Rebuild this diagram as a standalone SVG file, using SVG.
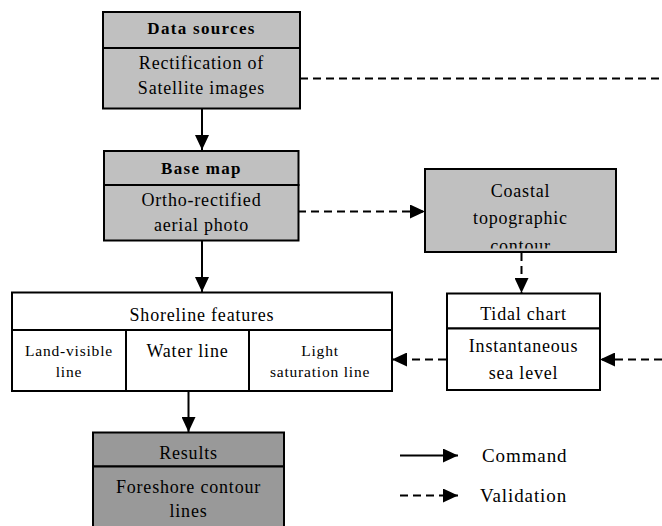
<svg xmlns="http://www.w3.org/2000/svg" width="662" height="526" viewBox="0 0 662 526">
<style>
.box{stroke:#000;stroke-width:2}
.g{fill:#c0c0c0}
.d{fill:#999999}
.w{fill:#fff}
.t{font-family:"Liberation Serif","Times New Roman",serif;font-size:18px;letter-spacing:0.8px;fill:#000;text-anchor:middle}
.b{font-weight:bold;font-size:17px;letter-spacing:1.3px}
.s{font-size:15.5px;letter-spacing:0.8px}
.lg{font-size:19px;letter-spacing:0.9px;text-anchor:start}
.c{stroke:#000;stroke-width:2;fill:none}
.dash{stroke-dasharray:8 5}
</style>
<defs>
<marker id="ah" markerUnits="userSpaceOnUse" markerWidth="16" markerHeight="14" refX="15" refY="7" orient="auto">
<path d="M0,0 L15,7 L0,14 z" fill="#000"/>
</marker>
<clipPath id="cc"><rect x="426" y="170" width="189" height="78.5"/></clipPath>
</defs>

<g id="connectors">
<line class="c" x1="202" y1="109" x2="202" y2="150" marker-end="url(#ah)"/>
<line class="c" x1="202" y1="241" x2="202" y2="292" marker-end="url(#ah)"/>
<line class="c" x1="188.5" y1="391" x2="188.5" y2="432" marker-end="url(#ah)"/>
<line class="c dash" x1="300" y1="78.5" x2="662" y2="78.5"/>
<line class="c dash" x1="298" y1="211.5" x2="425" y2="211.5" marker-end="url(#ah)"/>
<line class="c dash" x1="521.5" y1="253" x2="521.5" y2="293" marker-end="url(#ah)"/>
<line class="c dash" x1="446" y1="359.5" x2="392" y2="359.5" marker-end="url(#ah)"/>
<line class="c dash" x1="662" y1="359.5" x2="600" y2="359.5" marker-end="url(#ah)"/>
</g>

<g id="data-sources">
<rect class="box g" x="103" y="12" width="197" height="36"/>
<rect class="box g" x="103" y="48" width="197" height="60.5"/>
<text class="t b" x="201.5" y="34">Data sources</text>
<text class="t" x="201.5" y="69">Rectification of</text>
<text class="t" x="201.5" y="94">Satellite images</text>
</g>

<g id="base-map">
<rect class="box g" x="104" y="151" width="194.5" height="34"/>
<rect class="box g" x="104" y="185" width="194.5" height="55.5"/>
<text class="t b" x="201.5" y="173.5">Base map</text>
<text class="t" x="201.5" y="205.5">Ortho-rectified</text>
<text class="t" x="201.5" y="230.5">aerial photo</text>
</g>

<g id="coastal">
<rect class="box g" x="425" y="169" width="191" height="83"/>
<g clip-path="url(#cc)">
<text class="t" x="520.5" y="197">Coastal</text>
<text class="t" x="520.5" y="223.5">topographic</text>
<text class="t" x="520.5" y="251.5">contour</text>
</g>
</g>

<g id="tidal-chart">
<rect class="box w" x="447" y="293.5" width="153" height="35"/>
<rect class="box w" x="447" y="328.5" width="153" height="61.5"/>
<text class="t" x="523.5" y="320">Tidal chart</text>
<text class="t" x="523.5" y="352">Instantaneous</text>
<text class="t" x="523.5" y="378.5">sea level</text>
</g>

<g id="shoreline-features">
<rect class="box w" x="12" y="292.5" width="380" height="37.5"/>
<rect class="box w" x="12" y="330" width="380" height="61"/>
<line class="c" x1="126" y1="330" x2="126" y2="391"/>
<line class="c" x1="249" y1="330" x2="249" y2="391"/>
<text class="t" x="202" y="321">Shoreline features</text>
<text class="t s" x="69" y="356">Land-visible</text>
<text class="t s" x="69" y="376.5">line</text>
<text class="t" x="187.5" y="356.5">Water line</text>
<text class="t s" x="320" y="356">Light</text>
<text class="t s" x="320" y="376.5">saturation line</text>
</g>

<g id="results">
<rect class="box d" x="93" y="432.5" width="191" height="34"/>
<rect class="box d" x="93" y="466.5" width="191" height="70"/>
<text class="t" x="188.5" y="458.5">Results</text>
<text class="t" x="188.5" y="493">Foreshore contour</text>
<text class="t" x="188.5" y="517">lines</text>
</g>

<g id="legend">
<line class="c" x1="400" y1="455.5" x2="458" y2="455.5" marker-end="url(#ah)"/>
<line class="c dash" x1="400" y1="495.5" x2="458" y2="495.5" marker-end="url(#ah)"/>
<text class="t lg" x="482" y="462">Command</text>
<text class="t lg" x="480" y="502">Validation</text>
</g>
</svg>
